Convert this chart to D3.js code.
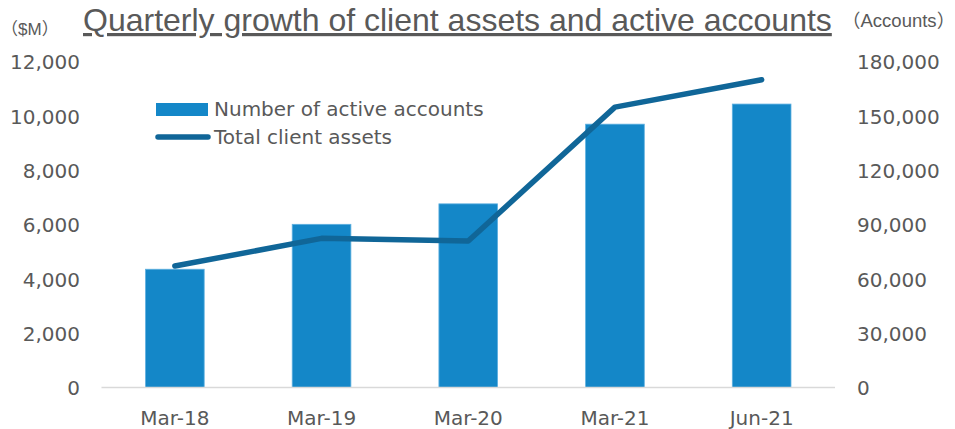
<!DOCTYPE html>
<html>
<head>
<meta charset="utf-8">
<script src="https://cdn.jsdelivr.net/npm/d3@7"></script>
<style>
    body { margin: 0; background: #ffffff; }
    svg text { fill: #595959; font-family: "DejaVu Sans", Verdana, sans-serif; }
</style>
</head>
<body>
<div id="chart"></div>
<script>
// quarterly figures
var data = [
    {quarter: "Mar-18", accounts: 65300, assets: 4470},
    {quarter: "Mar-19", accounts: 90100, assets: 5490},
    {quarter: "Mar-20", accounts: 101400, assets: 5390},
    {quarter: "Mar-21", accounts: 145400, assets: 10320},
    {quarter: "Jun-21", accounts: 156500, assets: 11330}
];

var width = 955, height = 429;
var margin = {top: 61.5, right: 120, bottom: 41.5, left: 101.5};

var svg = d3.select("#chart").append("svg")
        .attr("width", width)
        .attr("height", height);

var x = d3.scaleBand()
        .domain(data.map(function (d) { return d.quarter; }))
        .range([margin.left, width - margin.right])
        .paddingInner(0.6)
        .paddingOuter(0.3);

var yLeft = d3.scaleLinear()
        .domain([0, 12000])
        .range([height - margin.bottom, margin.top]);

var yRight = d3.scaleLinear()
        .domain([0, 180000])
        .range([height - margin.bottom, margin.top]);

var fmt = d3.format(",");

// left axis ($M)
var gl = svg.append("g")
        .attr("transform", "translate(80,0)")
        .call(d3.axisLeft(yLeft).tickValues(d3.range(0, 12001, 2000)).tickSize(0).tickPadding(0).tickFormat(fmt));
gl.select(".domain").remove();
gl.selectAll("text").style("font-size", "20px").attr("fill", "#595959").attr("dy", "0.36em");

// right axis (accounts)
var gr = svg.append("g")
        .attr("transform", "translate(857,0)")
        .call(d3.axisRight(yRight).tickValues(d3.range(0, 180001, 30000)).tickSize(0).tickPadding(0).tickFormat(fmt));
gr.select(".domain").remove();
gr.selectAll("text").style("font-size", "20px").attr("fill", "#595959").attr("dy", "0.36em");

// bars
svg.append("g").selectAll("rect")
        .data(data)
        .enter().append("rect")
        .attr("x", function (d) { return x(d.quarter); })
        .attr("y", function (d) { return yRight(d.accounts); })
        .attr("width", x.bandwidth())
        .attr("height", function (d) { return yRight(0) - yRight(d.accounts); })
        .attr("fill", "#1487c8")
        .attr("stroke", "#5fb0e0")
        .attr("stroke-width", 0.8);

// baseline
svg.append("line")
        .attr("x1", margin.left).attr("x2", width - margin.right)
        .attr("y1", yLeft(0)).attr("y2", yLeft(0))
        .attr("stroke", "#d9d9d9")
        .attr("stroke-width", 1.5);

// x axis labels
var gx = svg.append("g")
        .attr("transform", "translate(0," + (yLeft(0) + 21) + ")")
        .call(d3.axisBottom(x).tickSize(0).tickPadding(0));
gx.select(".domain").remove();
gx.selectAll("text").style("font-size", "20px").attr("fill", "#595959").attr("dy", "0.8em");

// line
var line = d3.line()
        .x(function (d) { return x(d.quarter) + x.bandwidth() / 2; })
        .y(function (d) { return yLeft(d.assets); });

svg.append("path")
        .datum(data)
        .attr("d", line)
        .attr("fill", "none")
        .attr("stroke", "#106698")
        .attr("stroke-width", 5.5)
        .attr("stroke-linecap", "round")
        .attr("stroke-linejoin", "round");

// legend
var legend = svg.append("g");
legend.append("rect")
        .attr("x", 156).attr("y", 103)
        .attr("width", 52).attr("height", 13)
        .attr("fill", "#1487c8");
legend.append("text")
        .attr("x", 214).attr("y", 116)
        .style("font-size", "20px")
        .text("Number of active accounts");
legend.append("line")
        .attr("x1", 158).attr("x2", 208)
        .attr("y1", 137).attr("y2", 137)
        .attr("stroke", "#106698")
        .attr("stroke-width", 5.5)
        .attr("stroke-linecap", "round");
legend.append("text")
        .attr("x", 214).attr("y", 144)
        .style("font-size", "20px")
        .text("Total client assets");

// title and unit labels
svg.append("text")
        .attr("x", 83).attr("y", 31)
        .style("font-family", "'Liberation Sans', Arial, sans-serif")
        .style("font-size", "32px")
        .style("text-decoration", "underline")
        .text("Quarterly growth of client assets and active accounts");

function unitLabel(x0, y0, size, inner) {
    var t = svg.append("text")
            .attr("x", x0).attr("y", y0)
            .style("font-size", size + "px");
    t.append("tspan").style("font-family", "'Noto Sans CJK JP', sans-serif").text("（");
    t.append("tspan").style("font-family", "'Liberation Sans', Arial, sans-serif").text(inner);
    t.append("tspan").style("font-family", "'Noto Sans CJK JP', sans-serif").text("）");
}
unitLabel(1, 35, 17, "$M");
unitLabel(842, 27, 18.5, "Accounts");
</script>
</body>
</html>
